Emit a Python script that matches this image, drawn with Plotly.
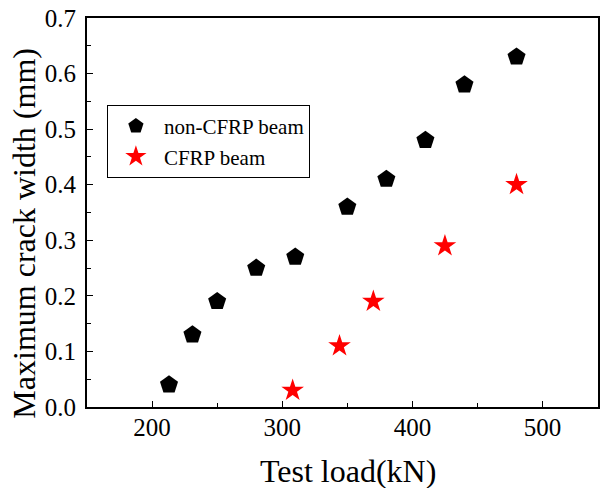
import plotly.graph_objects as go

# Data
non_cfrp_load = [213, 231, 250, 280, 310, 350, 380, 410, 440, 480]
non_cfrp_width = [0.04, 0.13, 0.19, 0.25, 0.27, 0.36, 0.41, 0.48, 0.58, 0.63]
cfrp_load = [308, 344, 370, 425, 480]
cfrp_width = [0.03, 0.11, 0.19, 0.29, 0.40]

x_ticks = [200, 300, 400, 500]
y_ticks = [0.0, 0.1, 0.2, 0.3, 0.4, 0.5, 0.6, 0.7]
y_tick_labels = ["0.0", "0.1", "0.2", "0.3", "0.4", "0.5", "0.6", "0.7"]
x_title = "Test load(kN)"
y_title = "Maximum crack width (mm)"

FONT = "Liberation Serif, Times New Roman, serif"

W, H = 600, 488
L, R, T, B = 86.5, 0, 18, 80.7
PW, PH = W - L - R, H - T - B


def px_to_paper(px, py):
    return (px - L) / PW, (H - B - py) / PH


fig = go.Figure()
fig.add_trace(go.Scatter(
    x=non_cfrp_load, y=non_cfrp_width, mode="markers", name="non-CFRP beam",
    marker=dict(symbol="pentagon", size=19, color="black", line=dict(width=0)),
))
fig.add_trace(go.Scatter(
    x=cfrp_load, y=cfrp_width, mode="markers", name="CFRP beam",
    marker=dict(symbol="star", size=17, color="red", line=dict(width=0)),
))

axis_common = dict(
    showgrid=False, zeroline=False, showline=True, linecolor="black", linewidth=1.8,
    ticks="inside", ticklen=6, tickwidth=1, tickcolor="black",
    tickfont=dict(family=FONT, size=25, color="black"),
    mirror=True,
)

fig.update_xaxes(
    range=[150, 542.6], tickvals=x_ticks,
    minor=dict(ticks="inside", ticklen=4, dtick=50, tick0=150, tickcolor="black"),
    ticklabelstandoff=-3,
    **axis_common,
)
fig.update_yaxes(
    range=[0, 0.7], tickvals=y_ticks, ticktext=y_tick_labels,
    minor=dict(ticks="inside", ticklen=4, dtick=0.05, tick0=0, tickcolor="black"),
    ticklabelstandoff=4,
    **axis_common,
)

xt_x, xt_y = px_to_paper(348.5, 471.7)
yt_x, yt_y = px_to_paper(23, 233)
fig.add_annotation(
    text=x_title, xref="paper", yref="paper", x=xt_x, y=xt_y,
    xanchor="center", yanchor="middle", showarrow=False,
    font=dict(family=FONT, size=32, color="black"),
)
fig.add_annotation(
    text=y_title, xref="paper", yref="paper", x=yt_x, y=yt_y, textangle=-90,
    xanchor="center", yanchor="middle", showarrow=False,
    font=dict(family=FONT, size=32, color="black"),
)

lx, ly = px_to_paper(106.5, 105)
fig.update_layout(
    width=W, height=H,
    margin=dict(l=L, r=R, t=T, b=B),
    paper_bgcolor="white", plot_bgcolor="white",
    showlegend=True,
    legend=dict(
        x=lx, y=ly, xanchor="left", yanchor="top",
        bgcolor="white", bordercolor="black", borderwidth=1,
        font=dict(family=FONT, size=21, color="black"),
        itemsizing="trace", itemwidth=46,
        tracegroupgap=0,
    ),
)

fig.write_html(
    "out.html",
    config={"displayModeBar": False},
    post_script="document.body.style.margin='0';",
)
